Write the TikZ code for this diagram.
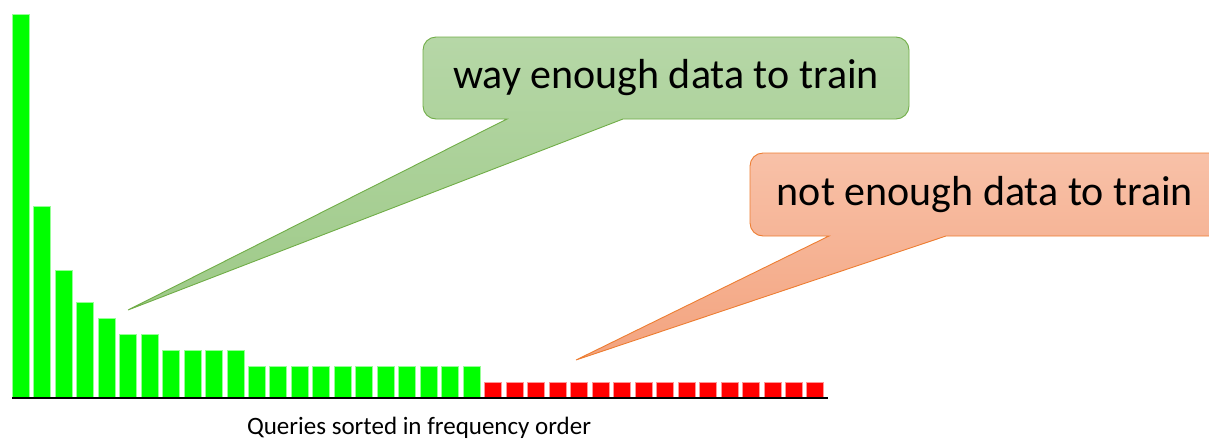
\documentclass[tikz,border=0pt]{standalone}
\usepackage{fontspec}
\setmainfont{Carlito}

\definecolor{barGreen}{RGB}{0,255,0}
\definecolor{barGreenEdge}{RGB}{150,255,150}
\definecolor{barRed}{RGB}{255,0,0}
\definecolor{barRedEdge}{RGB}{255,150,150}
\definecolor{greenTop}{RGB}{182,215,167}
\definecolor{greenBot}{RGB}{158,202,136}
\definecolor{greenEdge}{RGB}{112,173,71}
\definecolor{orangeTop}{RGB}{248,193,168}
\definecolor{orangeBot}{RGB}{243,163,126}
\definecolor{orangeEdge}{RGB}{237,125,49}

\begin{document}
\begin{tikzpicture}[x=1pt,y=-1pt,
  greenbar/.style={fill=barGreen,draw=barGreenEdge,line width=0.6pt},
  redbar/.style={fill=barRed,draw=barRedEdge,line width=0.6pt},
  axisline/.style={draw=black,line width=1.4pt},
  greencallout/.style={draw=greenEdge,line width=0.9pt,top color=greenTop,bottom color=greenBot},
  orangecallout/.style={draw=orangeEdge,line width=0.9pt,top color=orangeTop,bottom color=orangeBot},
  callouttext/.style={font=\fontsize{42}{50}\selectfont,text=black,inner sep=0pt},
  axislabel/.style={font=\fontsize{25}{30}\selectfont,text=black,inner sep=0pt}]

\useasboundingbox (0,0) rectangle (1209,445);
\clip (0,0) rectangle (1209,445);

% frequent queries
\foreach \h [count=\i from 0] in {24,12,8,6,5,4,4,3,3,3,3,2,2,2,2,2,2,2,2,2,2,2}
  \filldraw[greenbar] ({12+21.48*\i},398) rectangle ++(17,{-16*\h});

% long tail of rare queries
\foreach \i in {22,...,37}
  \filldraw[redbar] ({12+21.48*\i},398) rectangle ++(17,-16);

% horizontal axis
\coordinate (axisL) at (12,398);
\coordinate (axisR) at (828,398);
\draw[axisline] (axisL) -- (axisR);
\node[axislabel] (xlabel) at (419,428) {Queries sorted in frequency order};

% callout for the head of the distribution
\path[greencallout] (128,310) -- (623,119) -- (660,119)
  [rounded corners=13] -- (909,119) -- (909,37) -- (423,37) -- (423,119) -- (470,119)
  [sharp corners] -- (507,119) -- cycle;
\node[callouttext] (headText) at (666,78) {way enough data to train};

% callout for the tail of the distribution
\path[orangecallout] (576,360) -- (946,236) -- (990,236)
  [rounded corners=13] -- (1240,236) -- (1240,153) -- (750,153) -- (750,236) -- (790,236)
  [sharp corners] -- (829,236) -- cycle;
\node[callouttext] (tailText) at (985,194.5) {not enough data to train};

\end{tikzpicture}
\end{document}
